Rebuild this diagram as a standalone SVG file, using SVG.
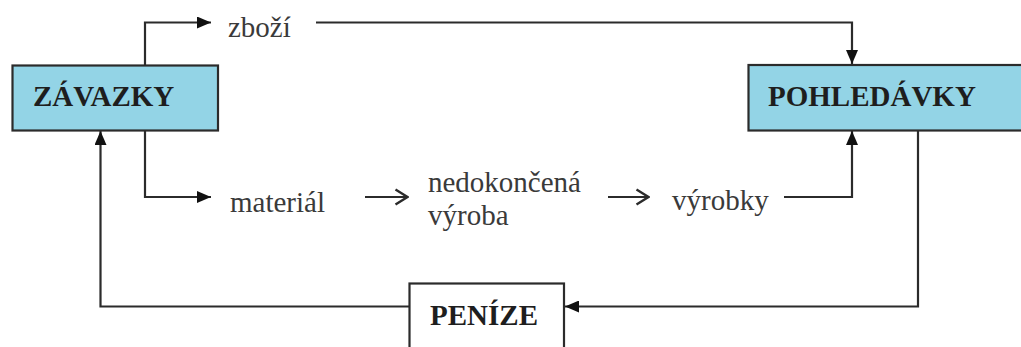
<svg xmlns="http://www.w3.org/2000/svg" width="1021" height="347" viewBox="0 0 1021 347">
  <style>
    .box { fill: #93d4e6; stroke: #2b2b2b; stroke-width: 2.2; }
    .plain { fill: #ffffff; stroke: #2b2b2b; stroke-width: 2.2; }
    .title { font-family: "Liberation Serif", "Times New Roman", serif; font-weight: bold; font-size: 29px; fill: #1e1e1e; }
    .label { font-family: "Liberation Serif", "Times New Roman", serif; font-size: 29px; fill: #3a3a3a; }
    .wire { fill: none; stroke: #2b2b2b; stroke-width: 2.2; }
    .flow { fill: none; stroke: #2b2b2b; stroke-width: 2.2; }
  </style>
  <defs>
    <marker id="solid" viewBox="0 0 14 12" refX="14" refY="6" markerWidth="14" markerHeight="12" markerUnits="userSpaceOnUse" orient="auto">
      <path d="M0,0 L14,6 L0,12 Z" fill="#111111"/>
    </marker>
    <marker id="open" viewBox="0 0 15 18" refX="14" refY="9" markerWidth="15" markerHeight="18" markerUnits="userSpaceOnUse" orient="auto">
      <path d="M1.5,1.5 L13.5,9 L1.5,16.5" fill="none" stroke="#2b2b2b" stroke-width="2.4"/>
    </marker>
  </defs>
  <rect width="1021" height="347" fill="#ffffff"/>

  <g id="connectors">
    <!-- ZÁVAZKY up to zboží -->
    <path class="wire" d="M145,65 V22.5 H211" marker-end="url(#solid)"/>
    <!-- zboží across to POHLEDÁVKY -->
    <path class="wire" d="M316,22.5 H852 V64" marker-end="url(#solid)"/>
    <!-- ZÁVAZKY down to materiál -->
    <path class="wire" d="M145,131 V197 H211" marker-end="url(#solid)"/>
    <!-- production chain -->
    <path class="flow" d="M365,197 H408" marker-end="url(#open)"/>
    <path class="flow" d="M608,197 H649" marker-end="url(#open)"/>
    <!-- výrobky up to POHLEDÁVKY -->
    <path class="wire" d="M784,197 H852 V131" marker-end="url(#solid)"/>
    <!-- POHLEDÁVKY down to PENÍZE -->
    <path class="wire" d="M918,131 V306.5 H565" marker-end="url(#solid)"/>
    <!-- PENÍZE back to ZÁVAZKY -->
    <path class="wire" d="M409,306.5 H100.5 V131" marker-end="url(#solid)"/>
  </g>

  <g id="zavazky">
    <rect class="box" x="12.5" y="65.5" width="205.5" height="65"/>
    <text class="title" x="33" y="106">ZÁVAZKY</text>
  </g>

  <g id="pohledavky">
    <rect class="box" x="748.5" y="65" width="290" height="65.5"/>
    <text class="title" x="768" y="106">POHLEDÁVKY</text>
  </g>

  <g id="penize">
    <rect class="plain" x="409.5" y="283.5" width="154.5" height="90"/>
    <text class="title" x="430" y="325">PENÍZE</text>
  </g>

  <g id="zbozi">
    <text class="label" x="228" y="37">zboží</text>
  </g>

  <g id="material">
    <text class="label" x="230" y="212">materiál</text>
  </g>

  <g id="nedokoncena-vyroba">
    <text class="label" x="428" y="192">nedokončená</text>
    <text class="label" x="428" y="225">výroba</text>
  </g>

  <g id="vyrobky">
    <text class="label" x="672" y="210">výrobky</text>
  </g>
</svg>
